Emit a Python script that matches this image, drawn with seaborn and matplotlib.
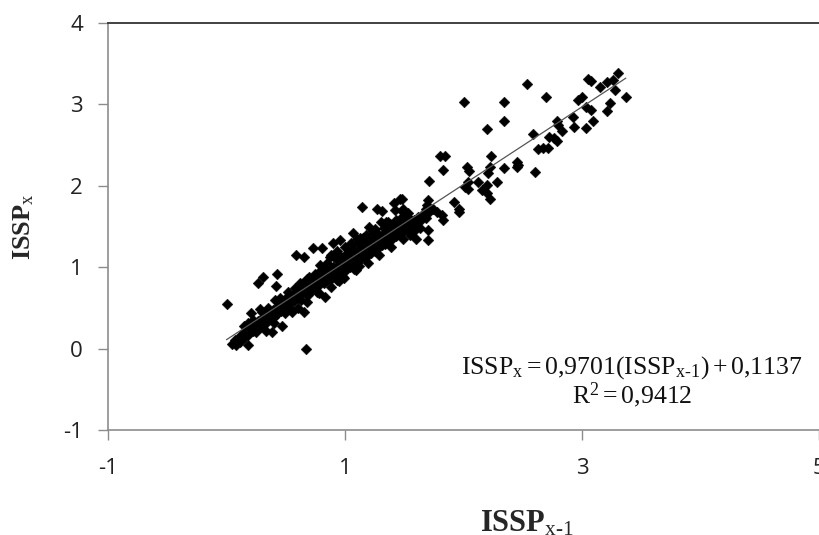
import matplotlib
matplotlib.use("Agg")
import matplotlib.pyplot as plt
import seaborn as sns
import numpy as np
import pandas as pd

# ---- data ----
band_x = [0.05,0.07,0.08,0.10,0.11,0.12,0.13,0.15,0.16,0.17,0.18,0.19,0.20,0.21,0.22,0.23,0.24,0.25,0.26,0.27,
          0.28,0.29,0.30,0.31,0.32,0.33,0.34,0.35,0.36,0.37,0.38,0.39,0.40,0.41,0.42,0.43,0.44,
          0.45,0.46,0.47,0.48,0.49,0.50,0.51,0.52,0.53,0.54,0.55,0.56,0.57,0.58,0.59,0.60,0.61,0.62,0.63,
          0.64,0.65,0.66,0.67,0.68,0.69,0.70,0.71,0.72,0.73,0.74,0.75,0.76,0.77,0.78,0.79,0.80,0.81,0.82,
          0.83,0.84,0.85,0.86,0.87,0.88,0.89,0.90,0.91,0.92,0.93,0.94,0.95,0.96,0.97,0.98,0.99,
          1.00,1.01,1.02,1.03,1.04,1.05,1.06,1.07,1.08,1.09,1.10,1.11,1.12,1.13,1.14,1.15,1.16,1.17,1.18,
          1.19,1.20,1.21,1.22,1.23,1.24,1.25,1.26,1.27,1.28,1.29,1.30,1.31,1.32,1.33,1.34,1.35,1.36,1.37,
          1.38,1.39,1.40,1.41,1.42,1.43,1.44,1.45,1.46,1.47,1.48,1.49,1.50,1.52,1.53,1.55,1.56,1.58,1.60,
          1.62,1.64,1.66,
          0.88,0.93,1.00,1.05,0.85,1.10,1.18,1.25,1.30,1.20,1.08,1.12,0.98,0.95]
band_y = [0.06,0.10,0.05,0.12,0.08,0.17,0.13,0.19,0.14,0.22,0.17,0.25,0.20,0.27,0.22,0.30,0.25,0.21,0.29,0.34,
          0.27,0.31,0.37,0.30,0.35,0.40,0.33,0.38,0.44,0.36,0.41,0.47,0.39,0.45,0.50,0.43,0.48,
          0.53,0.46,0.56,0.50,0.44,0.58,0.53,0.62,0.56,0.50,0.60,0.66,0.58,0.63,0.70,0.62,0.67,0.73,0.60,
          0.70,0.76,0.68,0.72,0.79,0.66,0.75,0.81,0.72,0.78,0.84,0.76,0.70,0.82,0.88,0.79,0.85,0.91,0.80,
          0.87,0.94,0.84,0.90,0.97,0.86,0.93,1.00,0.89,0.96,0.84,1.02,0.92,0.99,1.06,0.95,1.01,
          1.08,0.97,1.04,1.12,1.00,1.08,1.15,1.03,1.10,1.18,1.06,1.13,1.21,1.09,1.16,1.24,1.12,1.19,1.27,
          1.15,1.22,1.30,1.18,1.25,1.33,1.20,1.28,1.36,1.24,1.31,1.38,1.27,1.34,1.41,1.29,1.37,1.44,1.32,
          1.40,1.47,1.35,1.43,1.50,1.38,1.46,1.53,1.41,1.49,1.56,1.44,1.52,1.47,1.55,1.50,1.58,1.53,1.57,
          1.62,1.58,1.65,
          1.15,1.20,1.25,1.30,1.05,1.35,1.40,1.47,1.55,1.50,0.98,1.02,0.88,0.83]

band2_x = [0.15,0.22,0.30,0.35,0.45,0.52,0.58,0.62,0.70,0.75,0.80,0.85,0.92,0.97,1.02,1.07,1.12,1.17,1.22,1.27,
           1.33,1.38,1.43,1.48,1.53,0.40,0.55,0.68,0.78,0.88,0.99,1.09,1.19,1.29,1.39,1.49,1.58,0.33,0.60,0.95,
           1.15,1.24,1.35,1.42,1.05]
band2_y = [0.28,0.35,0.45,0.50,0.62,0.70,0.75,0.80,0.88,0.92,0.97,1.02,1.10,1.13,1.18,1.22,1.28,1.32,1.38,1.42,
           1.48,1.53,1.58,1.62,1.66,0.32,0.45,0.57,0.68,0.76,0.87,0.96,1.05,1.15,1.25,1.35,1.45,0.22,0.50,0.85,
           1.36,1.44,1.56,1.70,1.26]

spread_x = [3.30,3.05,3.08,3.15,3.21,3.26,3.28,3.37,3.24,3.21,3.00,2.97,3.03,3.08,2.92,3.09,2.93,3.03,2.79,2.80,
            2.83,2.72,2.76,2.79,2.63,2.67,2.71,2.59,2.70,2.54,2.60,2.45,2.46,2.45,2.34,2.34,2.20,2.00,2.23,2.22,
            2.34,2.28,2.21,2.20,2.16,2.20,2.22,2.12,2.04,2.01,2.04,2.03,2.05,1.80,1.84,1.83,1.71,1.92,1.96,1.96,
            1.70,1.69,1.68,1.70,1.68,1.70,1.70,1.74,1.78,1.82,1.83,1.48,1.49,1.14,1.27,1.31,1.41,1.46,1.48,0.73,
            0.81,0.65,0.59,0.90,0.96,1.07,1.13,1.36,0.00,0.27,0.31,0.43,0.42,0.21,0.28,0.18,0.41,0.51,0.67,0.18,
            0.38,0.47,0.65,0.68,0.65,0.83,0.79,0.87,0.90,1.57,1.63,1.55,1.60,1.52,1.58]
spread_y = [3.39,3.31,3.29,3.21,3.28,3.30,3.18,3.09,3.02,2.92,3.09,3.06,2.97,2.93,2.85,2.80,2.72,2.71,2.79,2.75,
            2.67,2.60,2.59,2.55,2.45,2.47,2.47,2.64,3.09,3.25,2.17,2.29,2.25,2.23,3.03,2.80,2.70,3.03,2.36,2.23,
            2.22,2.05,2.16,2.01,1.95,1.91,1.84,2.05,2.05,1.99,1.96,2.23,2.18,2.36,2.36,2.20,2.06,1.80,1.71,1.68,
            1.83,1.77,1.71,1.67,1.61,1.46,1.33,1.71,1.68,1.64,1.58,1.84,1.71,1.74,1.72,1.69,1.79,1.84,1.69,1.24,
            1.24,1.12,1.15,1.30,1.34,1.42,1.36,1.56,0.55,0.80,0.88,0.92,0.77,0.44,0.49,0.32,0.60,0.63,0.00,0.04,
            0.20,0.28,0.82,0.85,0.45,0.63,1.03,1.12,0.99,1.50,1.48,1.40,1.35,1.62,1.58]

x_ticks = [-1, 1, 3, 5]
y_ticks = [-1, 0, 1, 2, 3, 4]
HY = "\u2010"
eq_line1 = "$\\mathrm{ISSP}_{\\mathrm{x}} = 0{,}9701(\\mathrm{ISSP}_{\\mathrm{x" + HY + "1}}) + 0{,}1137$"
eq_line2 = "$\\mathrm{R}^{2} = 0{,}9412$"
x_label = "$\\mathbf{ISSP}_{\\mathrm{x" + HY + "1}}$"
y_label = "$\\mathbf{ISSP}_{\\mathrm{x}}$"

df = pd.DataFrame({"prev": band_x + band2_x + spread_x, "cur": band_y + band2_y + spread_y})

sns.set_style("white")
plt.rcParams["font.family"] = ["Open Sans", "DejaVu Sans"]
plt.rcParams["mathtext.fontset"] = "custom"
plt.rcParams["mathtext.rm"] = "Liberation Serif"
plt.rcParams["mathtext.bf"] = "Liberation Serif:bold"
plt.rcParams["mathtext.it"] = "Liberation Serif:italic"

fig = plt.figure(figsize=(8.19, 5.35), dpi=100)
ax = fig.add_axes([108/819, 105/535, 711/819, 407/535])

sns.scatterplot(data=df, x="prev", y="cur", ax=ax, marker="D", s=30,
                color="black", edgecolor="black", linewidth=0.3, zorder=3)
sns.regplot(data=df, x="prev", y="cur", ax=ax, scatter=False, ci=None,
            line_kws={"color": "#555555", "lw": 0.9, "zorder": 4})

ax.set_xlim(-1, 5)
ax.set_ylim(-1, 4)
ax.set_xticks(x_ticks)
ax.set_yticks(y_ticks)
ax.set_xticklabels([str(t) for t in x_ticks])
ax.set_yticklabels([str(t) for t in y_ticks])

for side in ["left", "bottom"]:
    ax.spines[side].set_color("#8c8c8c")
    ax.spines[side].set_linewidth(1.2)
ax.spines["top"].set_color("#333333")
ax.spines["top"].set_linewidth(1.3)
ax.spines["right"].set_visible(False)

ax.tick_params(axis="both", which="major", direction="out", length=7,
               width=1.0, color="#8c8c8c", labelsize=16, labelcolor="#222222",
               left=True, bottom=True)
ax.tick_params(axis="y", pad=11)
ax.tick_params(axis="x", pad=13)

ax.set_xlabel(x_label, fontsize=22)
ax.xaxis.set_label_coords(0.589, -0.193)
ax.set_ylabel(y_label, fontsize=19)
ax.yaxis.set_label_coords(-0.10, 0.5)

ax.text(0.737, 0.154, eq_line1, transform=ax.transAxes, ha="center", va="center",
        fontsize=18.5, color="#111111")
ax.text(0.737, 0.086, eq_line2, transform=ax.transAxes, ha="center", va="center",
        fontsize=18.5, color="#111111")

fig.savefig("out.png", dpi=100)
